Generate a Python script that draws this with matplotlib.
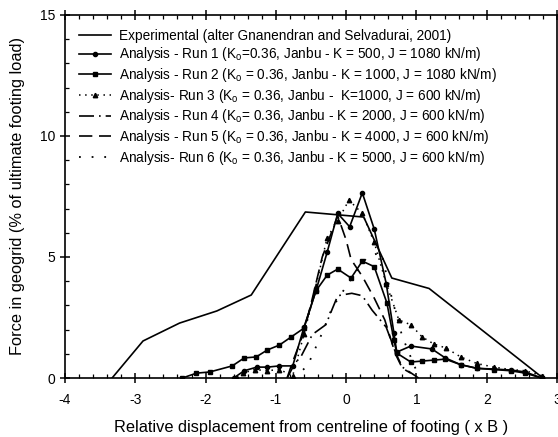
import numpy as np
import matplotlib
matplotlib.use("Agg")
import matplotlib.pyplot as plt
from matplotlib.ticker import MultipleLocator

plt.rcParams['font.family'] = ['Liberation Sans', 'DejaVu Sans']
plt.rcParams['mathtext.fontset'] = 'custom'
plt.rcParams['mathtext.rm'] = 'Liberation Sans'
plt.rcParams['mathtext.it'] = 'Liberation Sans'
plt.rcParams['axes.unicode_minus'] = False

# experimental curve
exp_x = [-3.33, -2.89, -2.37, -1.84, -1.35, -0.58, 0.25, 0.65, 1.18, 2.8]
exp_y = [0.0, 1.53, 2.27, 2.77, 3.43, 6.86, 6.65, 4.13, 3.7, 0.0]

# run 1
r1_x = [-1.6, -1.45, -1.27, -1.12, -0.95, -0.76, -0.6, -0.43, -0.27, -0.12, 0.05, 0.23, 0.4,
        0.57, 0.68, 0.72, 0.92, 1.22, 1.41, 1.63, 1.86, 2.1, 2.34, 2.55, 2.78]
r1_y = [0.0, 0.3, 0.45, 0.45, 0.5, 0.5, 2.1, 3.6, 5.2, 6.8, 6.25, 7.65, 6.15,
        3.9, 1.86, 1.07, 1.32, 1.2, 0.83, 0.55, 0.4, 0.37, 0.33, 0.25, 0.0]

# run 2
r2_x = [-2.33, -2.13, -1.94, -1.62, -1.45, -1.28, -1.12, -0.95, -0.78, -0.6, -0.43, -0.27, -0.12,
        0.07, 0.23, 0.4, 0.58, 0.68, 0.72, 0.92, 1.08, 1.25, 1.41, 1.63, 1.86, 2.1, 2.34, 2.55, 2.78]
r2_y = [0.0, 0.2, 0.25, 0.5, 0.83, 0.87, 1.16, 1.36, 1.7, 2.06, 3.6, 4.25, 4.5,
        4.13, 4.83, 4.6, 3.1, 1.57, 1.03, 0.66, 0.7, 0.74, 0.78, 0.55, 0.4, 0.35, 0.3, 0.2, 0.0]

# run 3
r3_x = [-1.55, -1.47, -1.3, -1.13, -0.95, -0.76, -0.6, -0.43, -0.27, -0.12, 0.04, 0.23, 0.4,
        0.57, 0.75, 0.92, 1.08, 1.25, 1.42, 1.63, 1.86, 2.1, 2.34, 2.55, 2.78]
r3_y = [0.0, 0.2, 0.35, 0.3, 0.35, 0.1, 1.8, 3.8, 5.8, 6.5, 7.35, 6.8, 5.6,
        3.9, 2.4, 2.2, 1.7, 1.4, 1.24, 0.87, 0.6, 0.45, 0.35, 0.3, 0.1]

# run 4
r4_x = [-0.84, -0.73, -0.64, -0.48, -0.29, -0.12, 0.08, 0.23, 0.37, 0.57, 0.71, 0.8, 1.03]
r4_y = [0.0, 0.6, 0.9, 1.8, 2.2, 3.4, 3.5, 3.4, 2.8, 2.1, 1.0, 0.45, 0.0]

# run 5
r5_x = [-0.84, -0.77, -0.6, -0.48, -0.34, -0.12, 0.0, 0.07, 0.23, 0.4, 0.55, 0.7, 0.8, 0.92]
r5_y = [0.0, 0.6, 1.9, 3.3, 5.0, 6.7, 5.7, 4.9, 4.2, 3.3, 2.4, 1.0, 0.4, 0.2]

# run 6
r6_x = [-0.75, -0.55, -0.35, -0.2, 0.05, 0.3, 0.5, 0.65, 0.8, 1.0]
r6_y = [0.0, 0.5, 1.8, 2.9, 4.0, 5.0, 5.2, 3.3, 1.7, 0.3]

labels = [
    'Experimental (alter Gnanendran and Selvadurai, 2001)',
    r'Analysis - Run 1 (K$_\mathrm{o}$=0.36, Janbu - K = 500, J = 1080 kN/m)',
    r'Analysis - Run 2 (K$_\mathrm{o}$ = 0.36, Janbu - K = 1000, J = 1080 kN/m)',
    r'Analysis- Run 3 (K$_\mathrm{o}$ = 0.36, Janbu -  K=1000, J = 600 kN/m)',
    r'Analysis - Run 4 (K$_\mathrm{o}$= 0.36, Janbu - K = 2000, J = 600 kN/m)',
    r'Analysis - Run 5 (K$_\mathrm{o}$ = 0.36, Janbu - K = 4000, J = 600 kN/m)',
    r'Analysis- Run 6 (K$_\mathrm{o}$ = 0.36, Janbu - K = 5000, J = 600 kN/m)',
]

fig = plt.figure(figsize=(5.58, 4.37), dpi=100)
ax = fig.add_axes([0.1165, 0.135, 0.8817, 0.8307])

lw = 1.2
ax.plot(exp_x, exp_y, color='k', lw=lw, label=labels[0])
ax.plot(r1_x, r1_y, color='k', lw=lw, marker='o', ms=3, label=labels[1])
ax.plot(r2_x, r2_y, color='k', lw=lw, marker='s', ms=2.8, label=labels[2])
ax.plot(r3_x, r3_y, color='k', lw=1.1, ls=(0, (1, 3)), marker='^', ms=3.2, label=labels[3])
ax.plot(r4_x, r4_y, color='k', lw=lw, ls=(0, (9, 3, 1, 3)), label=labels[4])
ax.plot(r5_x, r5_y, color='k', lw=lw, ls=(0, (8, 4)), label=labels[5])
ax.plot(r6_x, r6_y, color='k', lw=1.3, ls=(0, (1, 6)), label=labels[6])

ax.set_xlim(-4, 3)
ax.set_ylim(0, 15)
ax.xaxis.set_major_locator(MultipleLocator(1))
ax.xaxis.set_minor_locator(MultipleLocator(0.2))
ax.yaxis.set_major_locator(MultipleLocator(5))
ax.yaxis.set_minor_locator(MultipleLocator(1))
ax.tick_params(which='major', direction='inout', length=7, width=1.1, top=True, labelsize=10)
ax.tick_params(which='minor', direction='in', length=3, width=0.9, top=True)
ax.tick_params(axis='x', which='major', pad=7)
for s in ax.spines.values():
    s.set_linewidth(1.2)

ax.set_xlabel('Relative displacement from centreline of footing ( x B )', fontsize=11.8, labelpad=10)
ax.set_ylabel('Force in geogrid (% of ultimate footing load)', fontsize=11.8, labelpad=11)

ax.legend(loc='upper left', bbox_to_anchor=(0.012, 0.985), frameon=False, fontsize=9.8,
          handlelength=2.35, handletextpad=0.6, labelspacing=0.2, borderaxespad=0.2)

fig.savefig('out.png', dpi=100)
